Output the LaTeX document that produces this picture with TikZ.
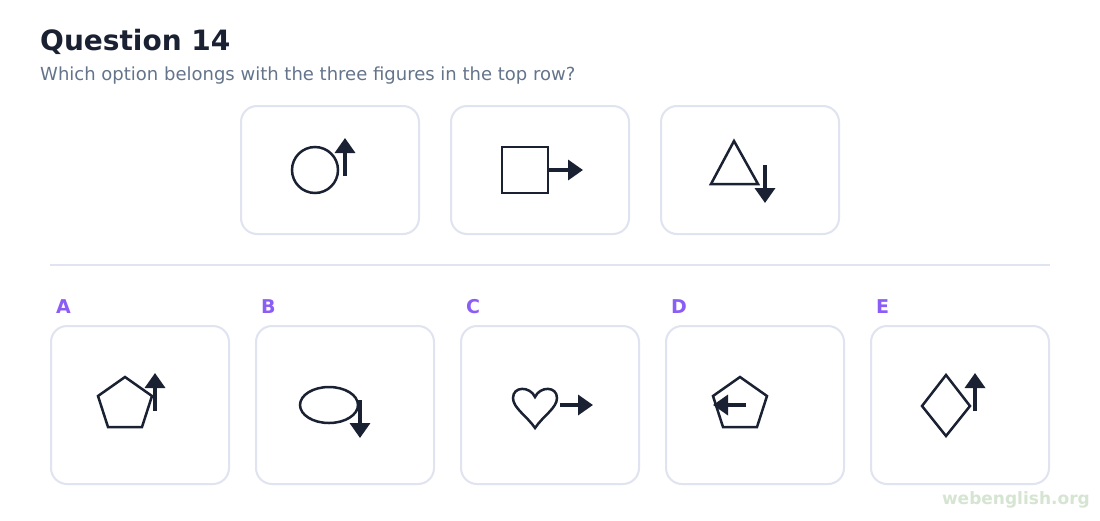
\documentclass[tikz,border=0pt]{standalone}
\usepackage{fontspec}
\setmainfont{DejaVu Sans}
\usetikzlibrary{arrows.meta}
\definecolor{ink}{HTML}{1A2133}
\definecolor{boxline}{HTML}{E0E3F0}
\definecolor{sub}{HTML}{64748B}
\definecolor{lab}{HTML}{8B5CF6}
\definecolor{wm}{HTML}{D6E4D2}
\tikzset{
  card/.style={draw=boxline, line width=2pt, rounded corners=16pt, fill=white, inner sep=0pt},
  topcard/.style={card, minimum width=178pt, minimum height=128pt},
  botcard/.style={card, minimum width=178pt, minimum height=158pt},
  fig/.style={draw=ink, line width=2.5pt, line join=miter},
  arr/.style={draw=ink, line width=3.5pt, -{Triangle[length=15pt,width=20pt]}},
  optlabel/.style={text=lab, font=\bfseries\fontsize{19}{19}\selectfont, anchor=base west, inner sep=0pt},
}
\begin{document}
\begin{tikzpicture}[x=1pt,y=-1pt]
\useasboundingbox (0,0) rectangle (1100,520);
\fill[white] (0,0) rectangle (1100,520);
% title
\node[anchor=base west, inner sep=0pt, text=ink, font=\bfseries\fontsize{28}{28}\selectfont] (title) at (40,50) {Question 14};
\node[anchor=base west, inner sep=0pt, text=sub, font=\fontsize{18}{18}\selectfont] (subtitle) at (40,80) {Which option belongs with the three figures in the top row?};
% top cards
\node[topcard] (t1) at (330,170) {};
\node[topcard] (t2) at (540,170) {};
\node[topcard] (t3) at (750,170) {};
% divider
\coordinate (dl) at (50,265);
\coordinate (dr) at (1050,265);
\draw[boxline, line width=2pt] (dl) -- (dr);
% bottom cards
\node[botcard] (ca) at (140,405) {};
\node[botcard] (cb) at (345,405) {};
\node[botcard] (cc) at (550,405) {};
\node[botcard] (cd) at (755,405) {};
\node[botcard] (ce) at (960,405) {};
\node[optlabel] (la) at (56,313) {A};
\node[optlabel] (lb) at (261,313) {B};
\node[optlabel] (lc) at (466,313) {C};
\node[optlabel] (ld) at (671,313) {D};
\node[optlabel] (le) at (876,313) {E};
% top figures
\draw[fig] (315,170) circle (23);
\draw[arr] (345,176) -- (345,138);
\draw[fig] (502,147) rectangle (548,193);
\draw[arr] (548,170) -- (583,170);
\draw[fig] (734,141) -- (758,184) -- (711,184) -- cycle;
\draw[arr] (765,165) -- (765,203);
% A
\draw[fig] (125,377) -- (152,396) -- (142,427) -- (108,427) -- (98,396) -- cycle;
\draw[arr] (155,411) -- (155,373);
% B
\draw[fig] (329,405) ellipse (29 and 18);
\draw[arr] (360,400) -- (360,438);
% C
\draw[fig] (535,397) .. controls (530,386) and (513,386) .. (513,398) .. controls (513,408) and (527,416) .. (535,428) .. controls (543,416) and (557,408) .. (557,398) .. controls (557,386) and (540,386) .. (535,397) -- cycle;
\draw[arr] (560,405) -- (593,405);
% D
\draw[fig] (740,377) -- (767,396) -- (757,427) -- (723,427) -- (713,396) -- cycle;
\draw[arr] (746,405) -- (713,405);
% E
\draw[fig] (946,375) -- (970,406) -- (946,436) -- (922,406) -- cycle;
\draw[arr] (975,411) -- (975,373);
% watermark
\node[anchor=base east, inner sep=0pt, text=wm, font=\bfseries\fontsize{17}{17}\selectfont] (wmk) at (1090,504) {webenglish.org};
\end{tikzpicture}
\end{document}
